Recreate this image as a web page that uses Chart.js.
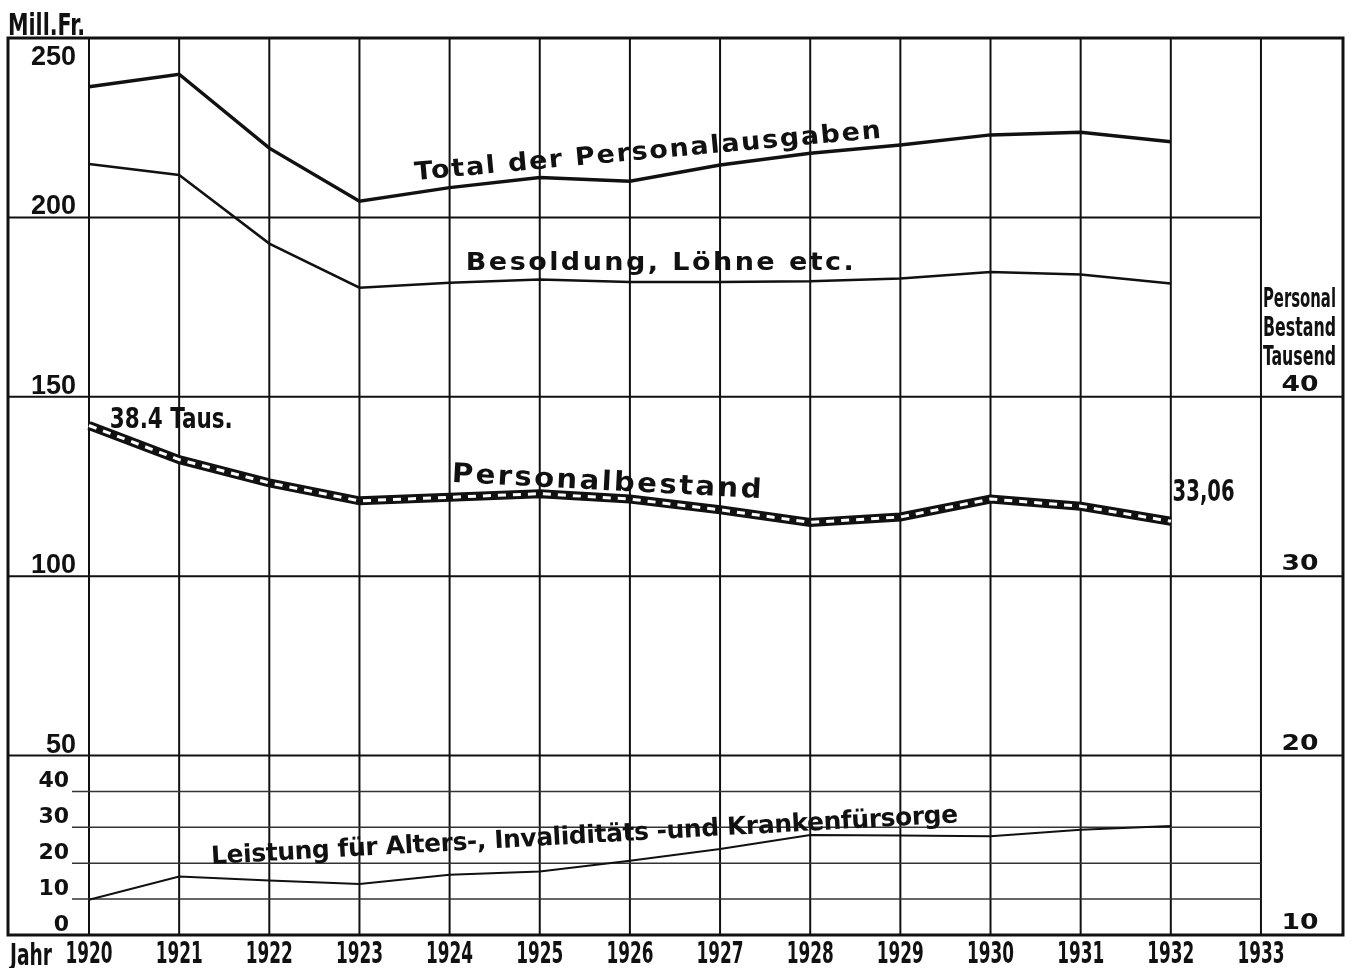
<!DOCTYPE html>
<html lang="de">
<head>
<meta charset="UTF-8">
<title>Personalausgaben 1920-1932</title>
<script src="https://cdn.jsdelivr.net/npm/chart.js"></script>
<style>
    html, body { margin: 0; padding: 0; background: #fff; }
    #box { width: 1351px; height: 968px; }
</style>
</head>
<body>
<div id="box"><canvas id="grafik" width="1351" height="968"></canvas></div>
<script>
    // Werte (Mill. Fr., Personal in Tausend)
    const jahre = [1920, 1921, 1922, 1923, 1924, 1925, 1926, 1927, 1928, 1929, 1930, 1931, 1932];
    const achsenJahre = [1920, 1921, 1922, 1923, 1924, 1925, 1926, 1927, 1928, 1929, 1930, 1931, 1932, 1933];
    const totalAusgaben = [236.4, 239.9, 219.3, 204.5, 208.3, 211.1, 210.1, 214.6, 217.9, 220.2, 223.0, 223.7, 221.1];
    const besoldung = [214.9, 211.8, 192.7, 180.4, 181.8, 182.7, 182.0, 182.0, 182.2, 183.0, 184.8, 184.1, 181.6];
    const personalbestand = [38.4, 36.5, 35.2, 34.2, 34.4, 34.6, 34.3, 33.7, 33.0, 33.3, 34.3, 33.9, 33.06];
    const fuersorge = [9.8, 16.3, 15.2, 14.2, 16.8, 17.7, 20.7, 24.0, 27.9, 27.7, 27.5, 29.3, 30.4];
    const ticksGross = [250, 200, 150, 100, 50];
    const ticksKlein = [40, 30, 20, 10, 0];
    const ticksRechts = [40, 30, 20, 10];

    const ink = '#111';
    const schmal = '"Liberation Sans Narrow", "DejaVu Sans Condensed"';

    function pts(arr) {
        return arr.map((v, i) => ({ x: jahre[i], y: v }));
    }

    // text helper: optional width fit (by scaling or letter spacing) and rotation
    function txt(ctx, text, x, y, o) {
        ctx.save();
        ctx.translate(x, y);
        if (o.rot) ctx.rotate(o.rot * Math.PI / 180);
        ctx.font = (o.weight || 'bold') + ' ' + o.size + 'px ' + (o.family || '"Liberation Sans"');
        ctx.fillStyle = ink;
        ctx.textBaseline = 'alphabetic';
        let w = ctx.measureText(text).width;
        let sx = o.sx || 1;
        if (o.width) {
            if (o.spacing) {
                ctx.letterSpacing = ((o.width - w * sx) / (text.length - 1) / sx) + 'px';
            } else {
                sx = o.width / w;
            }
            w = o.width;
        }
        let dx = 0;
        if (o.align === 'right') dx = -w;
        if (o.align === 'center') dx = -w / 2;
        ctx.translate(dx, 0);
        ctx.scale(sx, 1);
        ctx.fillText(text, 0, 0);
        ctx.restore();
    }

    const rasterPlugin = {
        id: 'raster',
        beforeDatasetsDraw(chart) {
            const ctx = chart.ctx;
            const a = chart.chartArea;
            const X = v => chart.scales.x.getPixelForValue(v);
            const Y = v => chart.scales.y.getPixelForValue(v);
            ctx.save();
            ctx.strokeStyle = ink;
            // vertical year lines
            ctx.lineWidth = 2;
            achsenJahre.forEach(j => {
                ctx.beginPath();
                ctx.moveTo(X(j), a.top);
                ctx.lineTo(X(j), a.bottom);
                ctx.stroke();
            });
            // main horizontal lines
            ticksGross.forEach(v => {
                if (v === 250) return;
                ctx.beginPath();
                ctx.moveTo(a.left, Y(v));
                ctx.lineTo(v === 200 ? X(1933) : a.right, Y(v));
                ctx.stroke();
            });
            // fine lines in the lower band
            ctx.lineWidth = 1.5;
            ctx.strokeStyle = '#333';
            ticksKlein.forEach(v => {
                if (v === 0) return;
                ctx.beginPath();
                ctx.moveTo(a.left + 64, Y(v));
                ctx.lineTo(X(1933), Y(v));
                ctx.stroke();
            });
            ctx.restore();
        },
        afterDatasetsDraw(chart) {
            const ctx = chart.ctx;
            const a = chart.chartArea;
            const X = v => chart.scales.x.getPixelForValue(v);
            const Y = v => chart.scales.y.getPixelForValue(v);
            const Y2 = v => chart.scales.y2.getPixelForValue(v);
            // frame
            ctx.save();
            ctx.strokeStyle = ink;
            ctx.lineWidth = 3;
            ctx.strokeRect(a.left, a.top, a.right - a.left, a.bottom - a.top);
            ctx.restore();

            // left ticks
            ticksGross.forEach(v => {
                const yy = v === 250 ? Y(v) + 27 : Y(v) - 3;
                txt(ctx, String(v), a.left + 68, yy, { size: 27, align: 'right' });
            });
            ticksKlein.forEach(v => {
                txt(ctx, String(v), a.left + 61, Y(v) - 4, { size: 22, family: '"DejaVu Sans"', align: 'right' });
            });
            // right ticks
            ticksRechts.forEach(v => {
                txt(ctx, String(v), X(1933) + 39, Y2(v) - 6, { size: 22, family: '"DejaVu Sans"', align: 'center', width: 37 });
            });
            // right title
            const rt = X(1933) + 2;
            txt(ctx, 'Personal', rt, Y2(40) - 90, { size: 27, family: schmal, width: 73 });
            txt(ctx, 'Bestand', rt, Y2(40) - 61, { size: 27, family: schmal, width: 73 });
            txt(ctx, 'Tausend', rt, Y2(40) - 32, { size: 27, family: schmal, width: 73 });

            // unit and year axis
            txt(ctx, 'Mill.Fr.', a.left, a.top - 3, { size: 30, family: schmal, width: 77 });
            txt(ctx, 'Jahr', a.left + 2, a.bottom + 30, { size: 30, family: schmal, width: 42 });
            achsenJahre.forEach(j => {
                txt(ctx, String(j), X(j), a.bottom + 28, { size: 30, family: schmal, weight: '600', align: 'center', width: 47 });
            });

            // series captions
            const cap = { size: 25, family: '"DejaVu Sans"', weight: 'bold', spacing: true, sx: 1.08 };
            txt(ctx, 'Total der Personalausgaben', X(1923.62), Y(210.4), Object.assign({}, cap, { width: 468, rot: -5.2 }));
            txt(ctx, 'Besoldung, Löhne etc.', X(1924.18), Y(185.3), Object.assign({}, cap, { width: 388 }));
            txt(ctx, 'Personalbestand', X(1924.02), Y(126.3), Object.assign({}, cap, { size: 27, width: 310, rot: 3 }));
            txt(ctx, 'Leistung für Alters-, Invaliditäts -und Krankenfürsorge', X(1921.36), Y(19.8), Object.assign({}, cap, { sx: 1, width: 748, rot: -3.2 }));
            txt(ctx, '38.4 Taus.', X(1920.23), Y(141.3), { size: 28, family: schmal, width: 123 });
            txt(ctx, '33,06', X(1932.02), Y(121.0), { size: 30, family: schmal, width: 62 });
        }
    };

    const linie = (data, width, extra) => Object.assign({
        data: pts(data),
        borderColor: ink,
        borderWidth: width,
        pointRadius: 0,
        tension: 0,
        fill: false,
        borderJoinStyle: 'miter',
        yAxisID: 'y'
    }, extra || {});

    // first dataset is drawn on top, so the white dash comes before the black band
    new Chart(document.getElementById('grafik'), {
        type: 'line',
        data: {
            datasets: [
                linie(personalbestand, 3, { yAxisID: 'y2', borderColor: '#fff', borderDash: [8, 7] }),
                linie(personalbestand, 9, { yAxisID: 'y2' }),
                linie(totalAusgaben, 3.5),
                linie(besoldung, 2.5),
                linie(fuersorge, 2)
            ]
        },
        options: {
            responsive: false,
            animation: false,
            layout: { padding: { left: 8, right: 8, top: 38, bottom: 33 } },
            plugins: { legend: { display: false }, tooltip: { enabled: false } },
            scales: {
                x: { type: 'linear', min: 1919.1015, max: 1933.91, display: false },
                y: { type: 'linear', min: 0, max: 250, display: false },
                y2: { type: 'linear', min: 10, max: 60, display: false }
            }
        },
        plugins: [rasterPlugin]
    });
</script>
</body>
</html>
